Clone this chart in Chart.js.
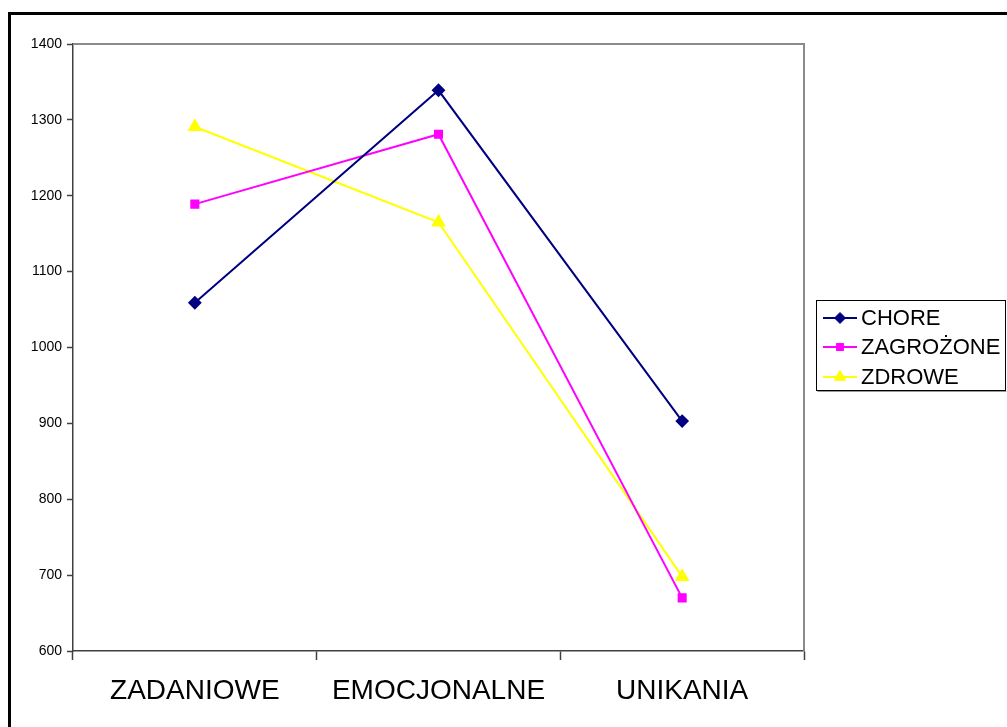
<!DOCTYPE html>
<html>
<head>
<meta charset="utf-8">
<script src="https://cdn.jsdelivr.net/npm/chart.js@4"></script>
<style>
  html, body { margin: 0; padding: 0; background: #fff; overflow: hidden; }
  #frame { position: absolute; left: 8px; top: 12px; width: 1100px; height: 800px;
           border-left: 3px solid #000; border-top: 3px solid #000; box-sizing: border-box; }
  #wrap { position: absolute; left: 0; top: 0; width: 1007px; height: 727px; }
</style>
</head>
<body>
<div id="frame"></div>
<div id="wrap"><canvas id="c" width="1007" height="727"></canvas></div>
<script>
const categories = ['ZADANIOWE', 'EMOCJONALNE', 'UNIKANIA'];
const chore = [1059, 1339, 903];
const zagrozone = [1189, 1281, 670];
const zdrowe = [1291, 1165, 698];
const yTicks = [600, 700, 800, 900, 1000, 1100, 1200, 1300, 1400];

const seriesNames = ['CHORE', 'ZAGROŻONE', 'ZDROWE'];
const seriesColors = ['#000080', '#FF00FF', '#FFFF00'];
const seriesPoints = ['rectRot', 'rect', 'triangle'];
const seriesRadius = [5.5, 5, 6.5];
const seriesData = [chore, zagrozone, zdrowe];

// Frame lines on top/right of the plot area and the boxed legend on the right
const decor = {
  id: 'decor',
  afterDraw(chart) {
    const ctx = chart.ctx, a = chart.chartArea;
    ctx.save();
    ctx.strokeStyle = '#8a8a8a';
    ctx.lineWidth = 2;
    ctx.beginPath();
    ctx.moveTo(a.left, a.top);
    ctx.lineTo(a.right, a.top);
    ctx.lineTo(a.right, a.bottom);
    ctx.stroke();

    const bx = 816.5, by = 300.5, bw = 189, bh = 90;
    ctx.fillStyle = '#fff';
    ctx.fillRect(bx, by, bw, bh);
    ctx.strokeStyle = '#000';
    ctx.lineWidth = 1;
    ctx.strokeRect(bx, by, bw, bh);
    ctx.strokeStyle = '#9a9a9a';
    ctx.beginPath();
    ctx.moveTo(bx + 1, by + bh + 1);
    ctx.lineTo(bx + bw + 1, by + bh + 1);
    ctx.stroke();
    const rows = [318, 347, 377];
    ctx.font = '22px Arial, "Liberation Sans", sans-serif';
    ctx.textBaseline = 'middle';
    chart.data.datasets.forEach((ds, i) => {
      const y = rows[i];
      ctx.strokeStyle = ds.borderColor;
      ctx.lineWidth = 2;
      ctx.beginPath();
      ctx.moveTo(823, y);
      ctx.lineTo(857, y);
      ctx.stroke();
      ctx.fillStyle = ds.borderColor;
      ctx.strokeStyle = ds.borderColor;
      ctx.lineWidth = 1;
      Chart.helpers.drawPoint(ctx, {
        pointStyle: ds.pointStyle, radius: ds.pointRadius, borderWidth: 1
      }, 840, y);
      ctx.fillStyle = '#000';
      ctx.fillText(seriesNames[i], 861, y + 1);
    });
    ctx.restore();
  }
};

new Chart(document.getElementById('c'), {
  type: 'line',
  data: {
    labels: categories,
    datasets: seriesNames.map((name, i) => ({
      label: name,
      data: seriesData[i],
      borderColor: seriesColors[i],
      backgroundColor: seriesColors[i],
      pointBackgroundColor: seriesColors[i],
      pointBorderColor: seriesColors[i],
      pointStyle: seriesPoints[i],
      pointRadius: seriesRadius[i],
      borderWidth: 2,
      tension: 0,
      fill: false
    }))
  },
  options: {
    responsive: false,
    animation: false,
    devicePixelRatio: 1,
    layout: { padding: { left: 0, top: 44, right: 203, bottom: 0 } },
    plugins: { legend: { display: false }, tooltip: { enabled: false } },
    scales: {
      x: {
        offset: true,
        grid: { offset: true, drawOnChartArea: false, tickLength: 9, tickColor: '#404040', tickWidth: 1.5 },
        border: { color: '#404040', width: 1.5 },
        ticks: {
          color: '#000', padding: 14, maxRotation: 0,
          font: { family: 'Arial, "Liberation Sans", sans-serif', size: 28 }
        },
        afterFit(s) { s.height = 76; }
      },
      y: {
        min: 600, max: 1400,
        afterBuildTicks(s) { s.ticks = yTicks.map(v => ({ value: v })); },
        grid: { drawOnChartArea: false, tickLength: 6, tickColor: '#404040', tickWidth: 1.5 },
        border: { color: '#404040', width: 1.5 },
        ticks: {
          color: '#000', padding: 5,
          callback: v => String(v),
          font: { family: 'Arial, "Liberation Sans", sans-serif', size: 14 }
        },
        afterFit(s) { s.width = 73; }
      }
    }
  },
  plugins: [decor]
});
</script>
</body>
</html>
